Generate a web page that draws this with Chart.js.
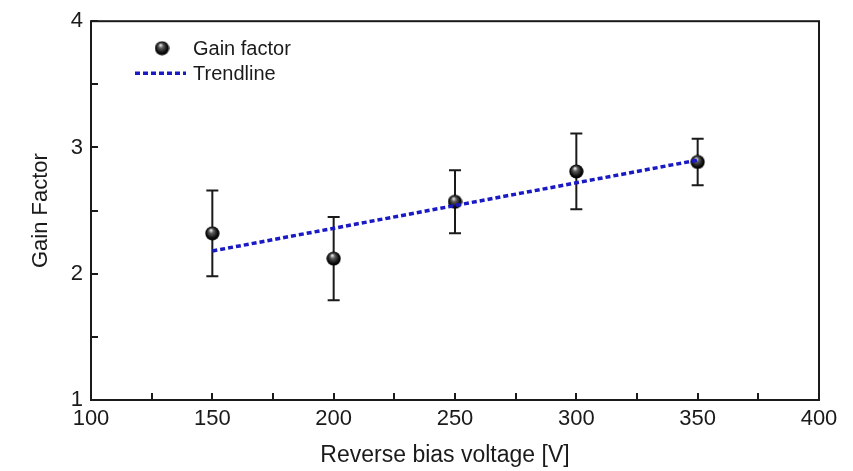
<!DOCTYPE html>
<html>
<head>
<meta charset="utf-8">
<script src="https://cdn.jsdelivr.net/npm/chart.js@4"></script>
<style>
  html, body { margin: 0; padding: 0; background: #fff; }
  #wrap { width: 853px; height: 471px; }
</style>
</head>
<body>
<div id="wrap"><canvas id="gainChart" width="853" height="471"></canvas></div>
<script>
// measured gain vs reverse bias
var voltages = [150, 200, 250, 300, 350];
var gainFactor = [2.32, 2.12, 2.57, 2.81, 2.885];
var gainError = [0.34, 0.33, 0.25, 0.30, 0.185];

// linear fit, end points
var trendVoltages = [150, 350];
var trendGain = [2.18, 2.90];

var xTitle = 'Reverse bias voltage [V]';
var yTitle = 'Gain Factor';

var fontFamily = "'Liberation Sans', Arial, sans-serif";
var inkColor = '#1a1a1a';
var trendColor = '#1a1ac4';

// shaded black ball used as the point marker
function makeSphere(d) {
    var c = document.createElement('canvas');
    c.width = d;
    c.height = d;
    var g = c.getContext('2d');
    var r = d / 2;
    var grad = g.createRadialGradient(r * 0.8, r * 0.55, 0.3, r, r, r);
    grad.addColorStop(0, '#f2f2f2');
    grad.addColorStop(0.3, '#5a5a5a');
    grad.addColorStop(0.75, '#0a0a0a');
    grad.addColorStop(1, '#000');
    g.fillStyle = grad;
    g.beginPath();
    g.arc(r, r, r - 0.4, 0, Math.PI * 2);
    g.fill();
    return c;
}
var sphere = makeSphere(15);

var errorBars = {
    id: 'errorBars',
    beforeDatasetsDraw: function (chart) {
        var ctx = chart.ctx;
        var xs = chart.scales.x, ys = chart.scales.y;
        ctx.save();
        ctx.strokeStyle = inkColor;
        ctx.lineWidth = 2;
        for (var i = 0; i < voltages.length; i++) {
            var px = xs.getPixelForValue(voltages[i]);
            var top = ys.getPixelForValue(gainFactor[i] + gainError[i]);
            var bot = ys.getPixelForValue(gainFactor[i] - gainError[i]);
            ctx.beginPath();
            ctx.moveTo(px, top);
            ctx.lineTo(px, bot);
            ctx.moveTo(px - 6, top);
            ctx.lineTo(px + 6, top);
            ctx.moveTo(px - 6, bot);
            ctx.lineTo(px + 6, bot);
            ctx.stroke();
        }
        ctx.restore();
    }
};

// closed frame with inward ticks on the bottom and left sides
var frameTicks = {
    id: 'frameTicks',
    afterDatasetsDraw: function (chart) {
        var ctx = chart.ctx;
        var a = chart.chartArea;
        var xs = chart.scales.x, ys = chart.scales.y;
        ctx.save();
        ctx.strokeStyle = inkColor;
        ctx.lineWidth = 2;
        ctx.strokeRect(a.left, a.top, a.right - a.left, a.bottom - a.top);
        ctx.beginPath();
        for (var v = xs.min; v <= xs.max; v += 25) {
            var px = Math.round(xs.getPixelForValue(v));
            ctx.moveTo(px, a.bottom);
            ctx.lineTo(px, a.bottom - 7);
        }
        for (var w = ys.min; w <= ys.max; w += 0.5) {
            var py = Math.round(ys.getPixelForValue(w));
            ctx.moveTo(a.left, py);
            ctx.lineTo(a.left + 7, py);
        }
        ctx.stroke();

        // bottom axis title, sitting a little left of centre
        ctx.font = '23px ' + fontFamily;
        ctx.fillStyle = inkColor;
        ctx.textAlign = 'center';
        ctx.textBaseline = 'middle';
        ctx.fillText(xTitle, (a.left + a.right) / 2 - 10, a.bottom + 56);
        ctx.restore();
    }
};

var insetLegend = {
    id: 'insetLegend',
    afterDraw: function (chart) {
        var ctx = chart.ctx;
        var a = chart.chartArea;
        ctx.save();
        ctx.font = '20px ' + fontFamily;
        ctx.fillStyle = inkColor;
        ctx.textBaseline = 'middle';
        ctx.drawImage(sphere, a.left + 71 - 7.5, a.top + 27 - 7.5);
        ctx.fillText(chart.data.datasets[0].label, a.left + 102, a.top + 28);
        ctx.strokeStyle = trendColor;
        ctx.lineWidth = 3.5;
        ctx.setLineDash([5, 3]);
        ctx.beginPath();
        ctx.moveTo(a.left + 44, a.top + 52);
        ctx.lineTo(a.left + 95, a.top + 52);
        ctx.stroke();
        ctx.setLineDash([]);
        ctx.fillText(chart.data.datasets[1].label, a.left + 102, a.top + 53);
        ctx.restore();
    }
};

var ctx = document.getElementById('gainChart').getContext('2d');
var gainChart = new Chart(ctx, {
    type: 'scatter',
    data: {
        datasets: [{
            label: 'Gain factor',
            data: voltages.map(function (v, i) { return { x: v, y: gainFactor[i] }; }),
            pointStyle: sphere,
            order: 1
        }, {
            label: 'Trendline',
            data: trendVoltages.map(function (v, i) { return { x: v, y: trendGain[i] }; }),
            showLine: true,
            borderColor: trendColor,
            borderWidth: 3.5,
            borderDash: [5, 3],
            pointRadius: 0,
            order: 0
        }]
    },
    options: {
        responsive: false,
        animation: false,
        layout: { padding: { left: 0, top: 18, right: 34, bottom: 0 } },
        plugins: {
            legend: { display: false },
            tooltip: { enabled: false }
        },
        scales: {
            x: {
                type: 'linear',
                min: 100,
                max: 400,
                grid: { display: false, drawTicks: false },
                border: { display: false },
                ticks: {
                    stepSize: 50,
                    padding: 6,
                    color: inkColor,
                    font: { family: fontFamily, size: 22 }
                },
                afterFit: function (scale) { scale.height = 71; }
            },
            y: {
                min: 1,
                max: 4,
                grid: { display: false, drawTicks: false },
                border: { display: false },
                ticks: {
                    stepSize: 1,
                    padding: 8,
                    color: inkColor,
                    font: { family: fontFamily, size: 22 }
                },
                title: {
                    display: true,
                    text: yTitle,
                    color: inkColor,
                    font: { family: fontFamily, size: 22 },
                    padding: { top: 28, bottom: 0 }
                },
                afterFit: function (scale) { scale.width = 91; }
            }
        }
    },
    plugins: [errorBars, frameTicks, insetLegend]
});
</script>
</body>
</html>
